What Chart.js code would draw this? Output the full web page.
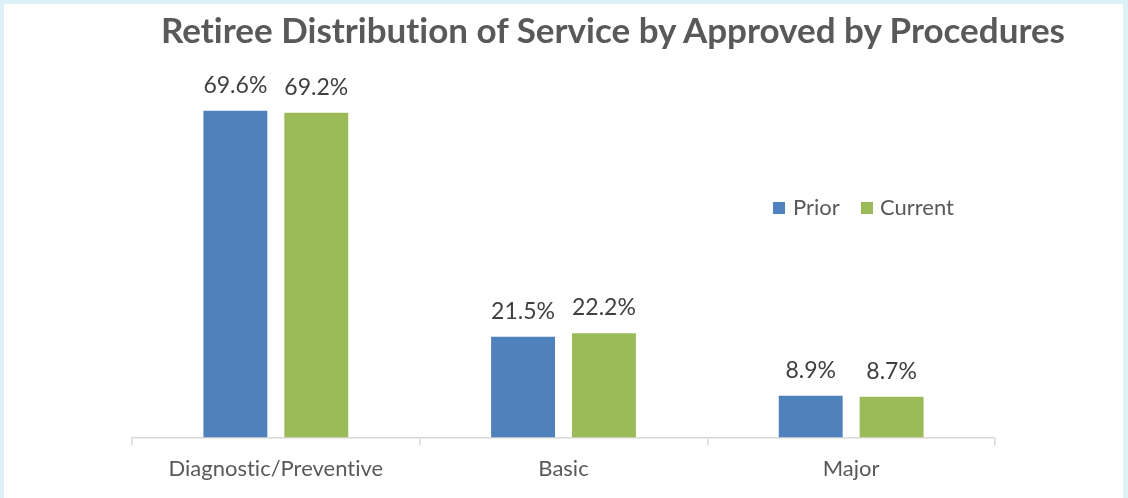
<!DOCTYPE html>
<html><head><meta charset="utf-8">
<script src="https://cdn.jsdelivr.net/npm/chart.js@4"></script>
<style>
html,body{margin:0;padding:0;}
body{width:1128px;height:498px;background:#DDF2F7;position:relative;overflow:hidden;font-family:Lato,sans-serif;font-variant-ligatures:none;}
#panel{position:absolute;left:4px;top:4px;width:1119px;height:494px;background:#fff;}
#c{position:absolute;left:0;top:0;}
#title{position:absolute;left:613px;top:12px;transform:translateX(-50%);white-space:nowrap;font-size:35px;line-height:35px;font-weight:bold;color:#595959;}
.lg{position:absolute;top:196px;font-size:22px;line-height:22px;color:#595959;white-space:nowrap;}
.sw{position:absolute;top:202px;width:12px;height:12px;}
</style></head>
<body>
<div id="panel"></div>
<canvas id="c" width="1128" height="498"></canvas>
<div id="title">Retiree Distribution of Service by Approved by Procedures</div>
<div class="sw" style="left:773px;background:#4F81BD"></div><div class="lg" style="left:793px">Prior</div>
<div class="sw" style="left:861px;background:#9BBB59"></div><div class="lg" style="left:880px">Current</div>
<script>
const categories = ['Diagnostic/Preventive', 'Basic', 'Major'];
const priorValues = [69.6, 21.5, 8.9];
const currentValues = [69.2, 22.2, 8.7];
const seriesNames = ['Prior', 'Current'];

const valueLabels = {
  id: 'valueLabels',
  afterDatasetsDraw(chart) {
    const ctx = chart.ctx;
    ctx.save();
    ctx.font = '23px Lato';
    ctx.fillStyle = '#404040';
    ctx.textAlign = 'center';
    ctx.textBaseline = 'alphabetic';
    chart.data.datasets.forEach((ds, i) => {
      chart.getDatasetMeta(i).data.forEach((bar, j) => {
        ctx.fillText(ds.data[j].toFixed(1) + '%', bar.x, bar.y - 18);
      });
    });
    ctx.restore();
  }
};

function draw() {
  new Chart(document.getElementById('c'), {
    type: 'bar',
    data: {
      labels: categories,
      datasets: [
        { label: seriesNames[0], data: priorValues, backgroundColor: '#4F81BD' },
        { label: seriesNames[1], data: currentValues, backgroundColor: '#9BBB59' }
      ]
    },
    options: {
      responsive: false,
      animation: false,
      devicePixelRatio: 1,
      categoryPercentage: 0.5625,
      barPercentage: 0.79,
      layout: { padding: { left: 132, right: 133, top: 62, bottom: 6 } },
      plugins: { legend: { display: false }, tooltip: { enabled: false }, title: { display: false } },
      scales: {
        x: {
          grid: { offset: true, drawOnChartArea: false, tickLength: 8, color: '#D9D9D9', lineWidth: 1.5 },
          border: { color: '#D9D9D9', width: 1.5 },
          ticks: { color: '#595959', font: { family: 'Lato', size: 22 }, padding: 10 }
        },
        y: { display: false, min: 0, max: 80 }
      }
    },
    plugins: [valueLabels]
  });
}
(document.fonts ? document.fonts.load('22px Lato').then(() => document.fonts.load('bold 35px Lato')) : Promise.resolve()).then(draw, draw);
</script>
</body></html>
